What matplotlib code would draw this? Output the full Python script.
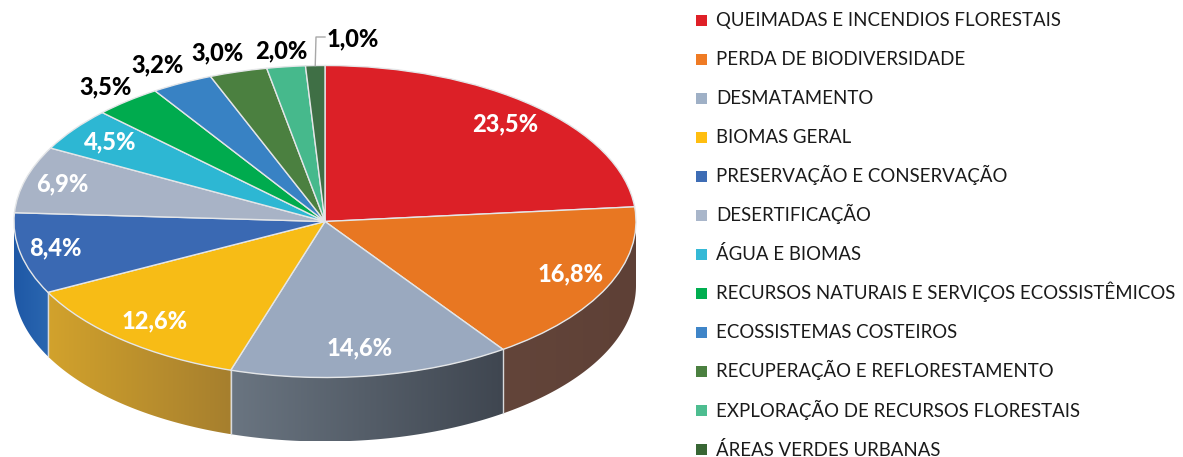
import numpy as np
import matplotlib
matplotlib.use("Agg")
import matplotlib.pyplot as plt
from matplotlib.colors import to_rgb
from matplotlib.patches import Polygon, Rectangle

# =============================================================================
# Data
# =============================================================================
categories = ["QUEIMADAS E INCENDIOS FLORESTAIS", "PERDA DE BIODIVERSIDADE", "DESMATAMENTO",
              "BIOMAS GERAL", "PRESERVAÇÃO E CONSERVAÇÃO", "DESERTIFICAÇÃO", "ÁGUA E BIOMAS",
              "RECURSOS NATURAIS E SERVIÇOS ECOSSISTÊMICOS", "ECOSSISTEMAS COSTEIROS",
              "RECUPERAÇÃO E REFLORESTAMENTO", "EXPLORAÇÃO DE RECURSOS FLORESTAIS",
              "ÁREAS VERDES URBANAS"]
values = [23.5, 16.8, 14.6, 12.6, 8.4, 6.9, 4.5, 3.5, 3.2, 3.0, 2.0, 1.0]
colors = ["#DC2027", "#E87722", "#9AA9BF", "#F7BC16", "#3A69B3", "#A8B3C6",
          "#2DB7D3", "#00AB4E", "#3882C4", "#4B8040", "#46B98C", "#3F6F45"]
legend_colors = ["#DF2027", "#EF7B24", "#9FB0C6", "#FFBE10", "#3E6DB5", "#A9B6CA",
                 "#35B9D6", "#00AE50", "#3F85C8", "#4B8040", "#4DBD90", "#386634"]

# side wall colours, left end to right end on screen, for the slices facing us
wall_colors = {1: ("#63453A", "#5E4036"), 2: ("#6A7581", "#3F4650"),
               3: ("#D2A22C", "#A67F2E"), 4: ("#1E58A6", "#2A66B0")}

# label centres in picture pixels
label_px = [(505, 124), (571, 274), (360, 348), (155, 321), (55, 248), (62, 184),
            (110, 142), (106, 87), (158, 65), (217, 53), (281, 51), (353, 39)]
label_colors = ["white"] * 7 + ["black"] * 5

W, H = 1183, 457
CX, CY, RX, RY = 325, 221.5, 311, 156
DEPTH = 64 / RY

# =============================================================================
# Figure: one axes over the whole picture, unit circle maps to the pie ellipse
# =============================================================================
fig = plt.figure(figsize=(W / 100, H / 100), dpi=100, facecolor="white")
ax = fig.add_axes([0, 0, 1, 1])

wedges, _ = ax.pie(values, colors=colors, startangle=90, counterclock=False, radius=1,
                   wedgeprops={"edgecolor": "#E4E6E8", "linewidth": 1.0, "zorder": 5})

# angles clockwise from the top
edges = np.concatenate([[0], np.cumsum(values)]) / np.sum(values) * 2 * np.pi


def rim(t):
    return np.sin(t), np.cos(t)


for i, (c0, c1) in wall_colors.items():
    ts = np.linspace(max(edges[i], np.pi / 2), min(edges[i + 1], 1.5 * np.pi), 120)
    xs, ys = rim(ts)
    outline = np.vstack([np.column_stack([xs, ys]),
                         np.column_stack([xs[::-1], ys[::-1] - DEPTH])])
    grad = np.linspace(np.array(to_rgb(c0)), np.array(to_rgb(c1)), 256)[None, :, :]
    im = ax.imshow(grad, extent=(xs.min(), xs.max(), (ys - DEPTH).min(), ys.max()),
                   aspect="auto", interpolation="bilinear", zorder=2)
    clip = Polygon(outline, closed=True, transform=ax.transData, facecolor="none", edgecolor="none")
    ax.add_patch(clip)
    im.set_clip_path(clip)

# imshow and pie both touch the view, so set it last
ax.set_aspect("auto")
ax.set_xlim(-CX / RX, (W - CX) / RX)
ax.set_ylim((CY - H) / RY, CY / RY)

# light seams between the visible walls
for t in edges[2:5]:
    x, y = rim(t)
    ax.plot([x, x], [y, y - DEPTH], color="#D8DADC", lw=1.0, zorder=3)

# leader line of the smallest slice
x, y = rim((edges[-2] + edges[-1]) / 2)
ax.plot([x, (316 - CX) / RX, (325 - CX) / RX], [y, (CY - 37) / RY, (CY - 37) / RY],
        color="#A8A8A8", lw=1.0, zorder=6)

# =============================================================================
# Percent labels
# =============================================================================
for v, (px, py), c in zip(values, label_px, label_colors):
    fig.text(px / W, 1 - py / H, f"{v:.1f}%".replace(".", ","), color=c, fontsize=17,
             family="Lato", fontweight="black", ha="center", va="center", zorder=10)

# =============================================================================
# Legend: rows are evenly spaced, Ç descenders must not push them apart
# =============================================================================
for i, (name, c) in enumerate(zip(categories, legend_colors)):
    yc = 20 + 39.05 * i
    fig.add_artist(Rectangle((696 / W, 1 - (yc + 5.5) / H), 11 / W, 11 / H,
                             transform=fig.transFigure, facecolor=c, edgecolor="none"))
    fig.text(716 / W, 1 - (yc + 6) / H, name, color="#1A1A1A", fontsize=13.4,
             family="Lato", ha="left", va="baseline")

ax.axis("off")
fig.savefig("out.png", dpi=100, facecolor="white")
plt.close()
